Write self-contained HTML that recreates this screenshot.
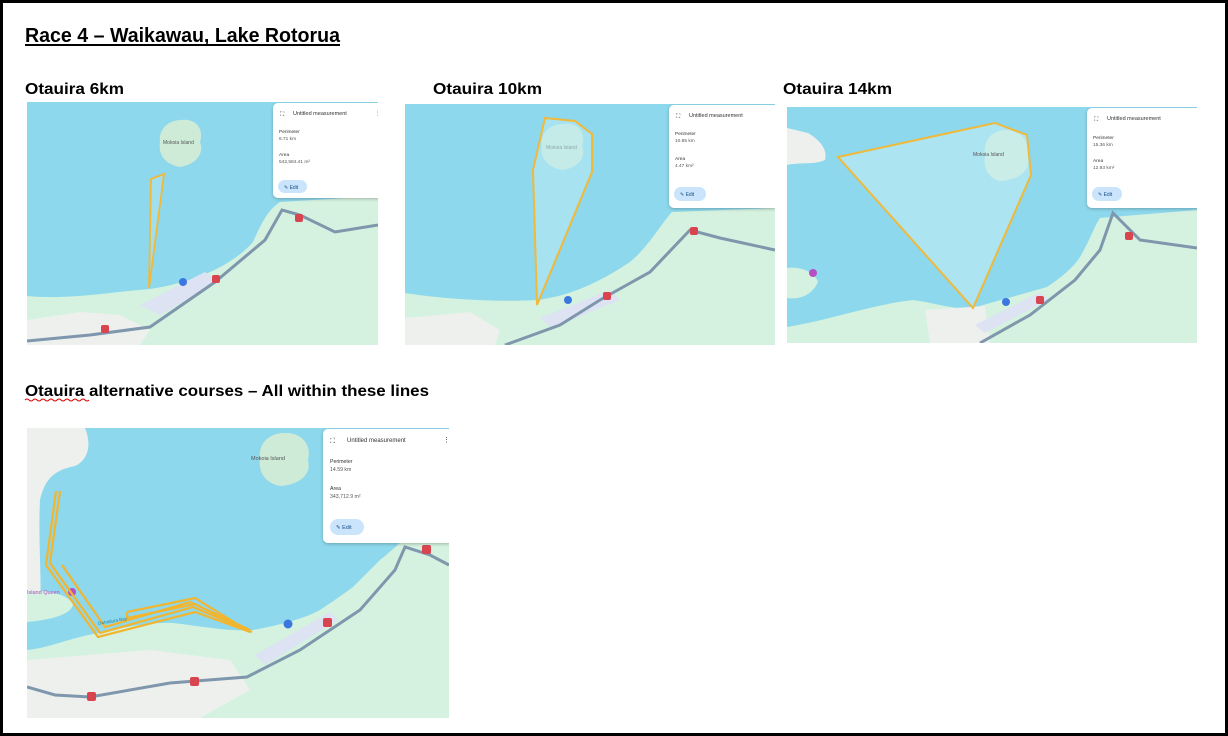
<!DOCTYPE html>
<html><head><meta charset="utf-8"><style>
html,body{margin:0;padding:0;background:#fff}
svg{display:block}
text{font-family:"Liberation Sans",sans-serif}
</style></head><body>
<svg width="1228" height="736" viewBox="0 0 1228 736" xmlns="http://www.w3.org/2000/svg">
<defs>
<clipPath id="c1"><rect x="27" y="102" width="351" height="243"/></clipPath>
<clipPath id="c2"><rect x="405" y="104" width="370" height="241"/></clipPath>
<clipPath id="c3"><rect x="787" y="107" width="410" height="236"/></clipPath>
<clipPath id="c4"><rect x="27" y="428" width="422" height="290"/></clipPath>
<filter id="sh" x="-10%" y="-10%" width="120%" height="130%"><feDropShadow dx="0" dy="1" stdDeviation="1.5" flood-opacity="0.25"/></filter>
</defs>
<rect x="1.5" y="1.5" width="1225" height="733" fill="#fff" stroke="#000" stroke-width="3"/>

<text x="25" y="42" font-size="20" font-weight="bold" textLength="315" lengthAdjust="spacingAndGlyphs">Race 4 – Waikawau, Lake Rotorua</text>
<rect x="25" y="44" width="315" height="2" fill="#000"/>
<text x="25" y="94" font-size="16" font-weight="bold" textLength="99" lengthAdjust="spacingAndGlyphs">Otauira 6km</text>
<text x="433" y="94" font-size="16" font-weight="bold" textLength="109" lengthAdjust="spacingAndGlyphs">Otauira 10km</text>
<text x="783" y="94" font-size="16" font-weight="bold" textLength="109" lengthAdjust="spacingAndGlyphs">Otauira 14km</text>
<text x="25" y="396" font-size="16" font-weight="bold" textLength="404" lengthAdjust="spacingAndGlyphs">Otauira alternative courses – All within these lines</text>
<path d="M25,400 q2,-2 4,0 t4,0 t4,0 t4,0 t4,0 t4,0 t4,0 t4,0 t4,0 t4,0 t4,0 t4,0 t4,0 t4,0 t4,0 t4,0" fill="none" stroke="#d00" stroke-width="1"/>

<!-- MAP 1 -->
<g clip-path="url(#c1)">
<rect x="27" y="102" width="351" height="243" fill="#8dd8ec"/>
<path d="M27,296 C70,300 110,292 150,289 C190,283 230,268 253,242 C262,222 268,210 280,202 L378,196 L378,345 L27,345Z" fill="#d4f2df"/>
<path d="M27,320 L80,312 L120,315 L150,330 L140,345 L27,345Z" fill="#eef0ee"/>
<path d="M140,305 L205,272 L218,282 L160,315Z" fill="#dde3f3"/>
<path d="M27,341 L90,335 L150,327 L215,282 L265,240 L282,210 L300,215 L335,232 L378,225" fill="none" stroke="#7f97ad" stroke-width="3"/>
<path d="M181,120 C197,118 204,130 200,142 C204,152 198,164 180,167 C165,164 158,155 160,142 C158,130 168,120 181,120Z" fill="#cdebd6"/>
<text x="163" y="144" font-size="5" fill="#555">Mokoia Island</text>
<circle cx="183" cy="282" r="4" fill="#3a78e0"/>
<rect x="212" y="275" width="8" height="8" rx="2" fill="#d9454f"/>
<rect x="101" y="325" width="8" height="8" rx="2" fill="#d9454f"/>
<rect x="295" y="214" width="8" height="8" rx="2" fill="#d9454f"/>
<polygon points="151,179 164,174 149,288" fill="rgba(180,230,240,0.5)" stroke="#f0b93a" stroke-width="1.8"/>
<rect x="273" y="103" width="110" height="95" rx="5" fill="#fff" filter="url(#sh)"/>
<text x="280" y="116" font-size="6" fill="#333">⛶</text>
<text x="293" y="115" font-size="5.5" fill="#333">Untitled measurement</text>
<text x="375" y="115" font-size="6" fill="#333">⋮</text>
<text x="279" y="133" font-size="4.8" fill="#333">Perimeter</text>
<text x="279" y="140" font-size="4.8" fill="#555">6.71 km</text>
<text x="279" y="156" font-size="4.8" fill="#333">Area</text>
<text x="279" y="163" font-size="4.8" fill="#555">542,584.41 m²</text>
<rect x="278" y="180" width="29" height="13" rx="6.5" fill="#c9e4fb"/>
<text x="284" y="189" font-size="5" fill="#1a4f8a">✎ Edit</text>
</g>

<!-- MAP 2 -->
<g clip-path="url(#c2)">
<rect x="405" y="104" width="370" height="241" fill="#8dd8ec"/>
<path d="M405,293 C450,300 500,302 537,300 C570,296 600,282 630,262 C650,245 660,225 672,212 L775,208 L775,345 L405,345Z" fill="#d4f2df"/>
<path d="M405,318 L470,312 L500,330 L495,345 L405,345Z" fill="#eef0ee"/>
<path d="M540,318 L610,290 L620,300 L552,328Z" fill="#dde3f3"/>
<path d="M505,345 L560,325 L600,300 L650,272 L690,230 L720,238 L775,250" fill="none" stroke="#7f97ad" stroke-width="3"/>
<path d="M563,124 C580,122 586,134 582,146 C586,156 580,168 562,170 C547,167 540,158 542,146 C540,133 550,124 563,124Z" fill="#cdebd6"/>
<text x="546" y="149" font-size="5" fill="#555">Mokoia Island</text>
<circle cx="568" cy="300" r="4" fill="#3a78e0"/>
<rect x="603" y="292" width="8" height="8" rx="2" fill="#d9454f"/>
<rect x="690" y="227" width="8" height="8" rx="2" fill="#d9454f"/>
<polygon points="545,118 575,121 592,134 592,172 537,305 533,170" fill="rgba(190,235,245,0.55)" stroke="#f0b93a" stroke-width="2"/>
<rect x="669" y="105" width="110" height="103" rx="5" fill="#fff" filter="url(#sh)"/>
<text x="676" y="118" font-size="6" fill="#333">⛶</text>
<text x="689" y="117" font-size="5.5" fill="#333">Untitled measurement</text>
<text x="675" y="135" font-size="4.8" fill="#333">Perimeter</text>
<text x="675" y="142" font-size="4.8" fill="#555">10.85 km</text>
<text x="675" y="160" font-size="4.8" fill="#333">Area</text>
<text x="675" y="167" font-size="4.8" fill="#555">4.47 km²</text>
<rect x="674" y="187" width="32" height="14" rx="7" fill="#c9e4fb"/>
<text x="680" y="196" font-size="5" fill="#1a4f8a">✎ Edit</text>
</g>

<!-- MAP 3 -->
<g clip-path="url(#c3)">
<rect x="787" y="107" width="410" height="236" fill="#8dd8ec"/>
<path d="M787,128 L808,133 C820,140 828,150 825,160 C815,165 800,162 787,165Z" fill="#eef0ee"/>
<path d="M787,268 C800,266 815,272 818,282 C812,295 800,300 787,298Z" fill="#d4f2df"/>
<path d="M787,327 C830,320 870,305 913,300 C940,304 955,310 973,308 C1000,300 1030,292 1047,287 C1065,275 1075,265 1080,257 C1090,240 1095,225 1100,218 L1197,210 L1197,343 L787,343Z" fill="#d4f2df"/>
<path d="M925,310 L985,306 L990,343 L930,343Z" fill="#eef0ee"/>
<path d="M975,325 L1040,292 L1048,300 L985,333Z" fill="#dde3f3"/>
<path d="M980,343 L1030,315 L1075,280 L1100,250 L1113,213 L1140,240 L1197,248" fill="none" stroke="#7f97ad" stroke-width="3"/>
<path d="M1005,130 C1022,130 1030,142 1028,158 C1030,170 1020,180 1000,181 C988,178 983,168 985,156 C983,142 990,131 1005,130Z" fill="#cdebd6"/>
<polygon points="838,157 995,123 1027,135 1031,175 973,308" fill="rgba(200,238,246,0.55)" stroke="#f0b93a" stroke-width="2"/>
<text x="973" y="156" font-size="5" fill="#555">Mokoia Island</text>
<circle cx="1006" cy="302" r="4" fill="#3a78e0"/>
<rect x="1036" y="296" width="8" height="8" rx="2" fill="#d9454f"/>
<rect x="1125" y="232" width="8" height="8" rx="2" fill="#d9454f"/>
<circle cx="813" cy="273" r="4" fill="#b54fc4"/>
<rect x="1087" y="108" width="115" height="100" rx="5" fill="#fff" filter="url(#sh)"/>
<text x="1094" y="121" font-size="6" fill="#333">⛶</text>
<text x="1107" y="120" font-size="5.5" fill="#333">Untitled measurement</text>
<text x="1093" y="139" font-size="4.8" fill="#333">Perimeter</text>
<text x="1093" y="146" font-size="4.8" fill="#555">15.36 km</text>
<text x="1093" y="162" font-size="4.8" fill="#333">Area</text>
<text x="1093" y="169" font-size="4.8" fill="#555">12.93 km²</text>
<rect x="1092" y="187" width="30" height="14" rx="7" fill="#c9e4fb"/>
<text x="1098" y="196" font-size="5" fill="#1a4f8a">✎ Edit</text>
</g>

<!-- MAP 4 -->
<g clip-path="url(#c4)">
<rect x="27" y="428" width="422" height="290" fill="#8dd8ec"/>
<path d="M27,428 L85,428 C92,445 88,460 75,466 C55,470 45,478 40,500 C38,540 42,580 40,610 L27,612Z" fill="#eef0ee"/>
<path d="M27,592 C45,588 70,595 73,605 C70,615 50,620 27,622Z" fill="#d4f2df"/>
<path d="M27,650 C50,648 75,636 100,633 C130,626 150,622 173,623 C200,626 230,632 253,630 C285,624 305,618 320,610 C335,600 345,593 353,587 C365,575 372,568 380,560 C390,552 395,547 400,543 L449,540 L449,718 L27,718Z" fill="#d4f2df"/>
<path d="M27,660 L150,650 L230,660 L250,690 L200,718 L27,718Z" fill="#eef0ee"/>
<path d="M255,655 L330,612 L338,620 L265,665Z" fill="#dde3f3"/>
<path d="M27,687 L55,695 L90,697 L170,683 L247,677 L300,650 L360,610 L395,570 L405,547 L430,555 L449,565" fill="none" stroke="#7f97ad" stroke-width="3"/>
<path d="M284,433 C302,432 312,445 308,460 C312,474 300,485 280,486 C265,483 258,472 260,458 C258,443 270,433 284,433Z" fill="#cdebd6"/>
<text x="251" y="460" font-size="5.5" fill="#555">Mokoia Island</text>
<circle cx="288" cy="624" r="4.5" fill="#3a78e0"/>
<rect x="323" y="618" width="9" height="9" rx="2" fill="#d9454f"/>
<rect x="190" y="677" width="9" height="9" rx="2" fill="#d9454f"/>
<rect x="87" y="692" width="9" height="9" rx="2" fill="#d9454f"/>
<rect x="422" y="545" width="9" height="9" rx="2" fill="#d9454f"/>
<circle cx="72" cy="592" r="4" fill="#b54fc4"/>
<text x="27" y="594" font-size="5.5" fill="#b54fc4">Island Queen</text>
<g fill="none" stroke="#f2b52f" stroke-width="2.2" stroke-linejoin="miter">
<polyline points="60,491 50,563 100,633 193,607 252,632"/>
<polyline points="56,491 46,565 98,637 195,612 250,632"/>
<polyline points="62,565 105,627 190,602 250,630"/>
<polyline points="127,612 127,618 195,604 250,632 195,598 127,612"/>
</g>
<text x="98" y="625" font-size="4.5" fill="#1b7f99" transform="rotate(-10 98 625)">Owhatiura Bay</text>
<rect x="323" y="429" width="130" height="114" rx="5" fill="#fff" filter="url(#sh)"/>
<text x="330" y="443" font-size="7" fill="#333">⛶</text>
<text x="347" y="442" font-size="6" fill="#333">Untitled measurement</text>
<text x="443" y="442" font-size="7" fill="#333">⋮</text>
<text x="330" y="463" font-size="5.2" fill="#333">Perimeter</text>
<text x="330" y="471" font-size="5.2" fill="#555">14.59 km</text>
<text x="330" y="490" font-size="5.2" fill="#333">Area</text>
<text x="330" y="498" font-size="5.2" fill="#555">343,712.9 m²</text>
<rect x="330" y="519" width="34" height="16" rx="8" fill="#c9e4fb"/>
<text x="336" y="529" font-size="5.5" fill="#1a4f8a">✎ Edit</text>
</g>
</svg>
</body></html>
